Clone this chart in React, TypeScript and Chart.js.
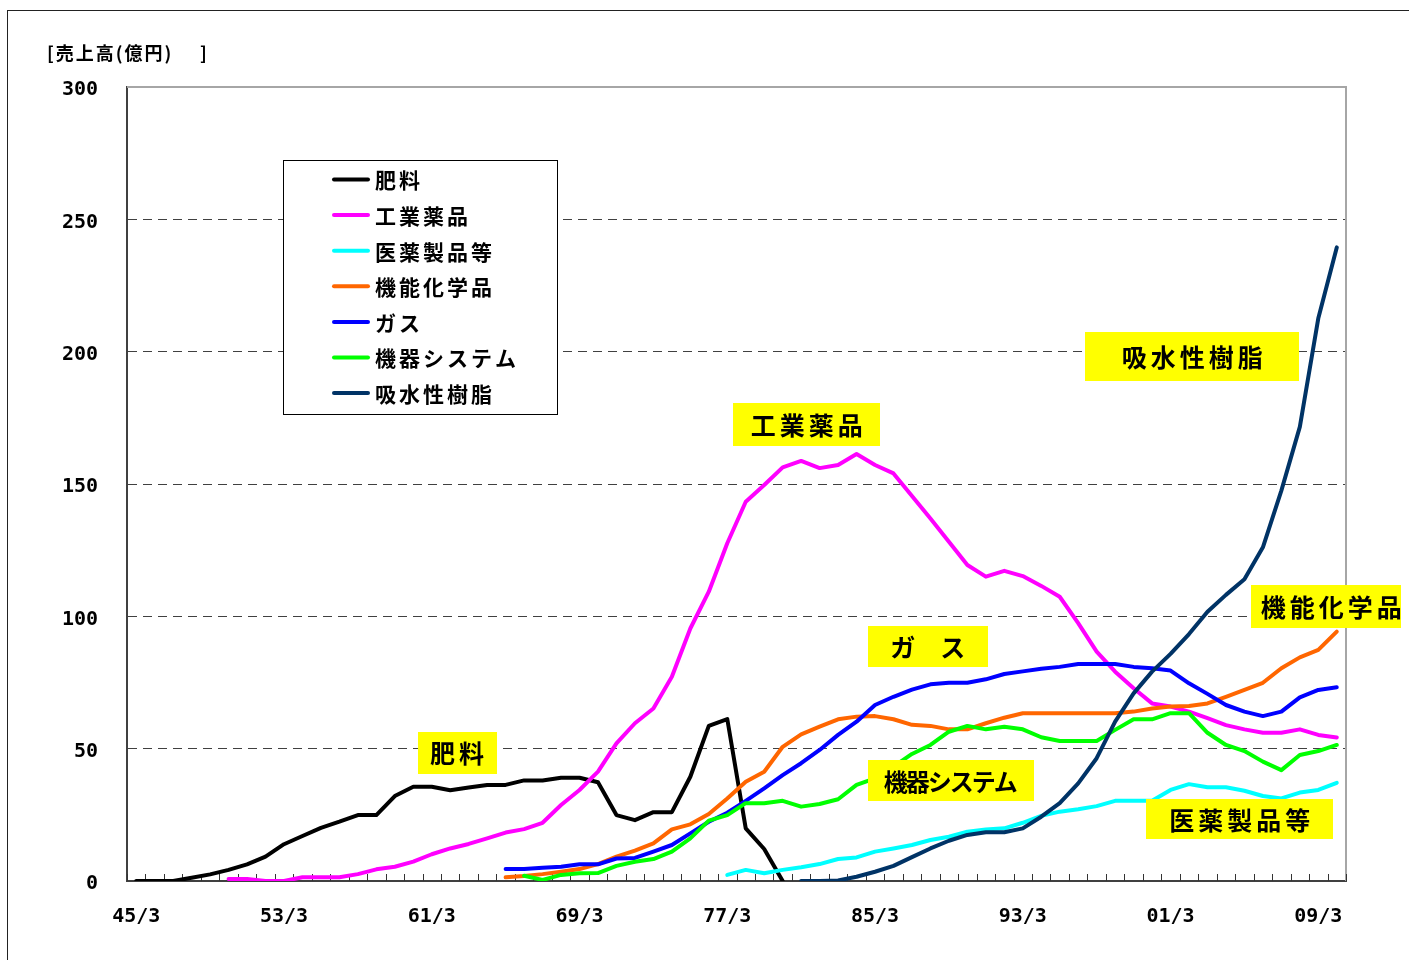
import React, { useEffect, useRef } from 'react';
import { Chart, registerables } from 'chart.js';

Chart.register(...registerables);

const _ = null;

const categories = [
  '45/3', '46/3', '47/3', '48/3', '49/3', '50/3', '51/3', '52/3', '53/3', '54/3',
  '55/3', '56/3', '57/3', '58/3', '59/3', '60/3', '61/3', '62/3', '63/3', '64/3',
  '65/3', '66/3', '67/3', '68/3', '69/3', '70/3', '71/3', '72/3', '73/3', '74/3',
  '75/3', '76/3', '77/3', '78/3', '79/3', '80/3', '81/3', '82/3', '83/3', '84/3',
  '85/3', '86/3', '87/3', '88/3', '89/3', '90/3', '91/3', '92/3', '93/3', '94/3',
  '95/3', '96/3', '97/3', '98/3', '99/3', '00/3', '01/3', '02/3', '03/3', '04/3',
  '05/3', '06/3', '07/3', '08/3', '09/3', '10/3',
];

// 肥料 (1945 - 1980)
const fertilizer = [
  0, 0, 0, 1.2, 2.5, 4.2, 6.3, 9.2, 13.9, 17,
  20.1, 22.4, 24.9, 24.9, 32.1, 35.6, 35.6, 34.3, 35.3, 36.3,
  36.3, 38, 38, 39, 39, 37.3, 24.9, 23, 26, 26,
  39.4, 58.6, 61.2, 19.9, 12.1, 0,
  _, _, _, _, _, _, _, _, _, _,
  _, _, _, _, _, _, _, _, _, _,
  _, _, _, _, _, _, _, _, _, _,
];

// 工業薬品 (1950 - 2010)
const industrial = [
  _, _, _, _, _,
  0.8, 0.8, 0, 0, 1.4, 1.4, 1.4, 2.6, 4.4, 5.4,
  7.3, 10.1, 12.3, 14, 16.1, 18.3, 19.6, 22, 28.7, 34.4,
  41.3, 52, 59.6, 65.2, 77.2, 95.4, 109.3, 127.6, 143.3, 149.6,
  156.3, 158.7, 156, 157.2, 161.3, 157.2, 154, 145.5, 137, 128.2,
  119.4, 115, 117.2, 115.2, 111.5, 107.4, 97.4, 86.7, 79.1, 72.8,
  67.1, 65.9, 64, 61.5, 58.9, 57.3, 56, 56, 57.3, 55.2,
  54.2,
];

// 医薬製品等 (1977 - 2010)
const pharma = [
  _, _, _, _, _, _, _, _, _, _,
  _, _, _, _, _, _, _, _, _, _,
  _, _, _, _, _, _, _, _, _, _,
  _, _,
  2.3, 4.2, 2.9, 4.2, 5.2, 6.4, 8.3, 8.9, 11.1, 12.3,
  13.6, 15.5, 16.7, 18.6, 19.5, 19.9, 22, 24.6, 26.2, 27.1,
  28.3, 30.3, 30.3, 30.3, 34.4, 36.6, 35.4, 35.4, 34.1, 32.1,
  31.2, 33.4, 34.4, 37.1,
];

// 機能化学品 (1965 - 2010)
const functional = [
  _, _, _, _, _, _, _, _, _, _,
  _, _, _, _, _, _, _, _, _, _,
  1.4, 1.9, 2.6, 3.5, 4.5, 6.4, 9.2, 11.5, 14.2, 19.5,
  21.4, 25.3, 31.2, 37.5, 41.3, 50.7, 55.4, 58.3, 61.1, 62.1,
  62.3, 61.1, 59, 58.6, 57.3, 57.3, 59.6, 61.7, 63.4, 63.4,
  63.4, 63.4, 63.4, 63.4, 64, 65.2, 65.9, 66.1, 67.1, 69.6,
  72.2, 74.9, 80.4, 84.5, 87.3, 94.2,
];

// ガス (1965 - 2010)
const gas = [
  _, _, _, _, _, _, _, _, _, _,
  _, _, _, _, _, _, _, _, _, _,
  4.5, 4.5, 5, 5.4, 6.3, 6.3, 8.5, 8.7, 11.1, 13.6,
  18, 22.4, 25.8, 30.3, 35, 40, 44.5, 49.5, 55.2, 60.2,
  66.5, 69.6, 72.3, 74.3, 74.9, 74.9, 76.2, 78.2, 79.2, 80.2,
  80.9, 82, 82, 82, 80.9, 80.4, 79.5, 74.7, 70.7, 66.5,
  64, 62.3, 64, 69.4, 72.2, 73.2,
];

// 機器システム (1966 - 2010)
const equipment = [
  _, _, _, _, _, _, _, _, _, _,
  _, _, _, _, _, _, _, _, _, _,
  _,
  2, 0.4, 2.3, 2.9, 3, 5.7, 7.3, 8.3, 11.1, 16.1,
  22.8, 24.9, 29.4, 29.4, 30.3, 28.1, 29.1, 30.9, 36.3, 38.8,
  43.2, 48, 51.4, 56.4, 58.6, 57.3, 58.3, 57.3, 54.3, 52.9,
  52.9, 52.9, 57.1, 61.1, 61.1, 63.4, 63.4, 56, 51.4, 49.1,
  45.1, 41.9, 47.6, 49.1, 51.4,
];

// 吸水性樹脂 (1981 - 2010)
const sap = [
  _, _, _, _, _, _, _, _, _, _,
  _, _, _, _, _, _, _, _, _, _,
  _, _, _, _, _, _, _, _, _, _,
  _, _, _, _, _, _,
  0, 0, 0.2, 1.6, 3.5, 5.7, 9, 12.3, 15.2, 17.4,
  18.4, 18.4, 19.9, 24.3, 29.4, 36.9, 46.4, 60.2, 70.9, 79.1,
  85.8, 93.3, 101.7, 108.1, 114, 126.1, 147.5, 171.6, 212.6, 239.4,
];

const seriesNames = ['肥料', '工業薬品', '医薬製品等', '機能化学品', 'ガス', '機器システム', '吸水性樹脂'];
const seriesValues = [fertilizer, industrial, pharma, functional, gas, equipment, sap];
const seriesColors = ['#000000', '#FF00FF', '#00FFFF', '#FF6600', '#0000FF', '#00FF00', '#003366'];

const yTicks = [0, 50, 100, 150, 200, 250, 300];
const yTitle = '[売上高(億円)';
const yTitleEnd = ']';

// callout labels: text, anchored at (category index, value) in data space
const calloutTexts = ['肥料', '工業薬品', 'ガ　ス', '機器システム', '医薬製品等', '機能化学品', '吸水性樹脂'];
const calloutAnchors = [
  [17.37, 48.4],
  [36.3, 172.5],
  [42.86, 88.6],
  [44.1, 38.0],
  [59.75, 23.4],
  [64.7, 103.7],
  [57.18, 198.2],
];
const calloutStyle = [
  { w: 79, h: 42, size: 25, sp: 4 },
  { w: 147, h: 43, size: 25, sp: 4 },
  { w: 120, h: 41, size: 25, sp: 0 },
  { w: 166, h: 41, size: 24, sp: -2 },
  { w: 187, h: 40, size: 25, sp: 4 },
  { w: 160, h: 43, size: 25, sp: 4 },
  { w: 214, h: 49, size: 25, sp: 4 },
];

const CJK = '"Noto Sans CJK JP", "Noto Sans CJK SC", sans-serif';
const MONO = '"DejaVu Sans Mono", monospace';

function spacedWidth(ctx: CanvasRenderingContext2D, text: string, sp: number) {
  let w = 0;
  const chars = Array.from(text);
  chars.forEach((c, i) => {
    w += ctx.measureText(c).width + (i < chars.length - 1 ? sp : 0);
  });
  return w;
}

function drawSpaced(ctx: CanvasRenderingContext2D, text: string, x: number, y: number, sp: number) {
  let cx = x;
  for (const c of Array.from(text)) {
    ctx.fillText(c, cx, y);
    cx += ctx.measureText(c).width + sp;
  }
}

const decorPlugin = {
  id: 'decor',
  beforeDatasetsDraw(chart: any) {
    const { ctx, chartArea: a } = chart;
    const xs = chart.scales.x;
    ctx.save();
    ctx.strokeStyle = '#a6a6a6';
    ctx.lineWidth = 2;
    ctx.beginPath();
    ctx.moveTo(a.left, a.top);
    ctx.lineTo(a.right, a.top);
    ctx.lineTo(a.right, a.bottom);
    ctx.stroke();
    ctx.strokeStyle = '#333';
    ctx.lineWidth = 1;
    for (let i = 0; i <= categories.length; i++) {
      const px = Math.round(xs.getPixelForValue(i - 0.5)) + 0.5;
      ctx.beginPath();
      ctx.moveTo(px, a.bottom);
      ctx.lineTo(px, a.bottom - 7);
      ctx.stroke();
    }
    ctx.restore();
  },
  afterDatasetsDraw(chart: any) {
    const { ctx } = chart;
    const xs = chart.scales.x;
    const ys = chart.scales.y;
    ctx.save();
    // callouts
    calloutTexts.forEach((t, i) => {
      const st = calloutStyle[i];
      const cx = xs.getPixelForValue(calloutAnchors[i][0]);
      const cy = ys.getPixelForValue(calloutAnchors[i][1]);
      ctx.fillStyle = '#FFFF00';
      ctx.fillRect(Math.round(cx - st.w / 2), Math.round(cy - st.h / 2), st.w, st.h);
      ctx.font = `bold ${st.size}px ${CJK}`;
      ctx.fillStyle = '#000';
      ctx.textBaseline = 'middle';
      ctx.textAlign = 'left';
      const w = spacedWidth(ctx, t, st.sp);
      drawSpaced(ctx, t, cx - w / 2, cy + 1, st.sp);
    });

    // legend box
    const lx = 275.5, ly = 152.5, lw = 274, lh = 254;
    ctx.fillStyle = '#fff';
    ctx.fillRect(lx, ly, lw, lh);
    ctx.strokeStyle = '#000';
    ctx.lineWidth = 1;
    ctx.strokeRect(lx, ly, lw, lh);
    ctx.font = `bold 21px ${CJK}`;
    ctx.textBaseline = 'middle';
    seriesNames.forEach((n, i) => {
      const yy = 171.5 + i * 35.6;
      ctx.strokeStyle = seriesColors[i];
      ctx.lineWidth = 4;
      ctx.lineCap = 'round';
      ctx.beginPath();
      ctx.moveTo(326, yy);
      ctx.lineTo(360, yy);
      ctx.stroke();
      ctx.fillStyle = '#000';
      drawSpaced(ctx, n, 367, yy + 1, 3);
    });

    // axis title
    ctx.font = `bold 18px ${CJK}`;
    ctx.fillStyle = '#000';
    ctx.textBaseline = 'middle';
    drawSpaced(ctx, yTitle, 39, 45, 2);
    drawSpaced(ctx, yTitleEnd, 192, 45, 0);
    ctx.restore();
  },
};

export default function App() {
  const ref = useRef<HTMLCanvasElement>(null);
  useEffect(() => {
    const canvas = ref.current!;
    const chart = new Chart(canvas, {
      type: 'line',
      data: {
        labels: categories,
        datasets: seriesNames.map((name, i) => ({
          label: name,
          data: seriesValues[i],
          borderColor: seriesColors[i],
          backgroundColor: seriesColors[i],
          borderWidth: 4,
          pointRadius: 0,
          pointHoverRadius: 0,
          tension: 0,
          fill: false,
          spanGaps: false,
          borderJoinStyle: 'round',
          borderCapStyle: 'round',
          order: seriesNames.length - i,
        })),
      },
      options: {
        responsive: false,
        animation: false,
        devicePixelRatio: 1,
        events: [],
        layout: { padding: { top: 79, right: 63, left: 0, bottom: 0 } },
        plugins: {
          legend: { display: false },
          title: { display: false },
          tooltip: { enabled: false },
        },
        scales: {
          x: {
            type: 'category',
            offset: true,
            afterFit: (s: any) => { s.height = 71; },
            grid: { display: true, drawOnChartArea: false, drawTicks: false, offset: true },
            border: { display: true, color: '#404040', width: 2 },
            ticks: {
              autoSkip: false,
              maxRotation: 0,
              minRotation: 0,
              padding: 24,
              color: '#000',
              font: { family: MONO, size: 20, weight: 'bold' },
              callback: (_v: any, idx: number) => (idx % 8 === 0 ? categories[idx] : ''),
            },
          },
          y: {
            min: 0,
            max: 300,
            afterFit: (s: any) => { s.width = 119; },
            afterBuildTicks: (s: any) => { s.ticks = yTicks.map((v) => ({ value: v })); },
            grid: {
              drawTicks: false,
              lineWidth: 1,
              color: (c: any) => (c.tick && (c.tick.value === 0 || c.tick.value === 300) ? 'rgba(0,0,0,0)' : '#404040'),
            },
            border: { display: true, color: '#404040', width: 2, dash: [9, 6] },
            ticks: {
              padding: 29,
              labelOffset: 3,
              color: '#000',
              font: { family: MONO, size: 20, weight: 'bold' },
            },
          },
        },
      },
      plugins: [decorPlugin],
    } as any);
    return () => chart.destroy();
  }, []);

  return (
    <div style={{ position: 'relative', width: 1401, height: 944, overflow: 'hidden' }}>
      <div
        style={{
          position: 'fixed', left: 7, top: 10, width: 1500, height: 1100,
          border: '1px solid #222', boxSizing: 'border-box', pointerEvents: 'none',
        }}
      />
      <canvas
        ref={ref}
        width={1401}
        height={944}
        style={{ position: 'absolute', left: 0, top: 0, width: 1401, height: 944 }}
      />
    </div>
  );
}
